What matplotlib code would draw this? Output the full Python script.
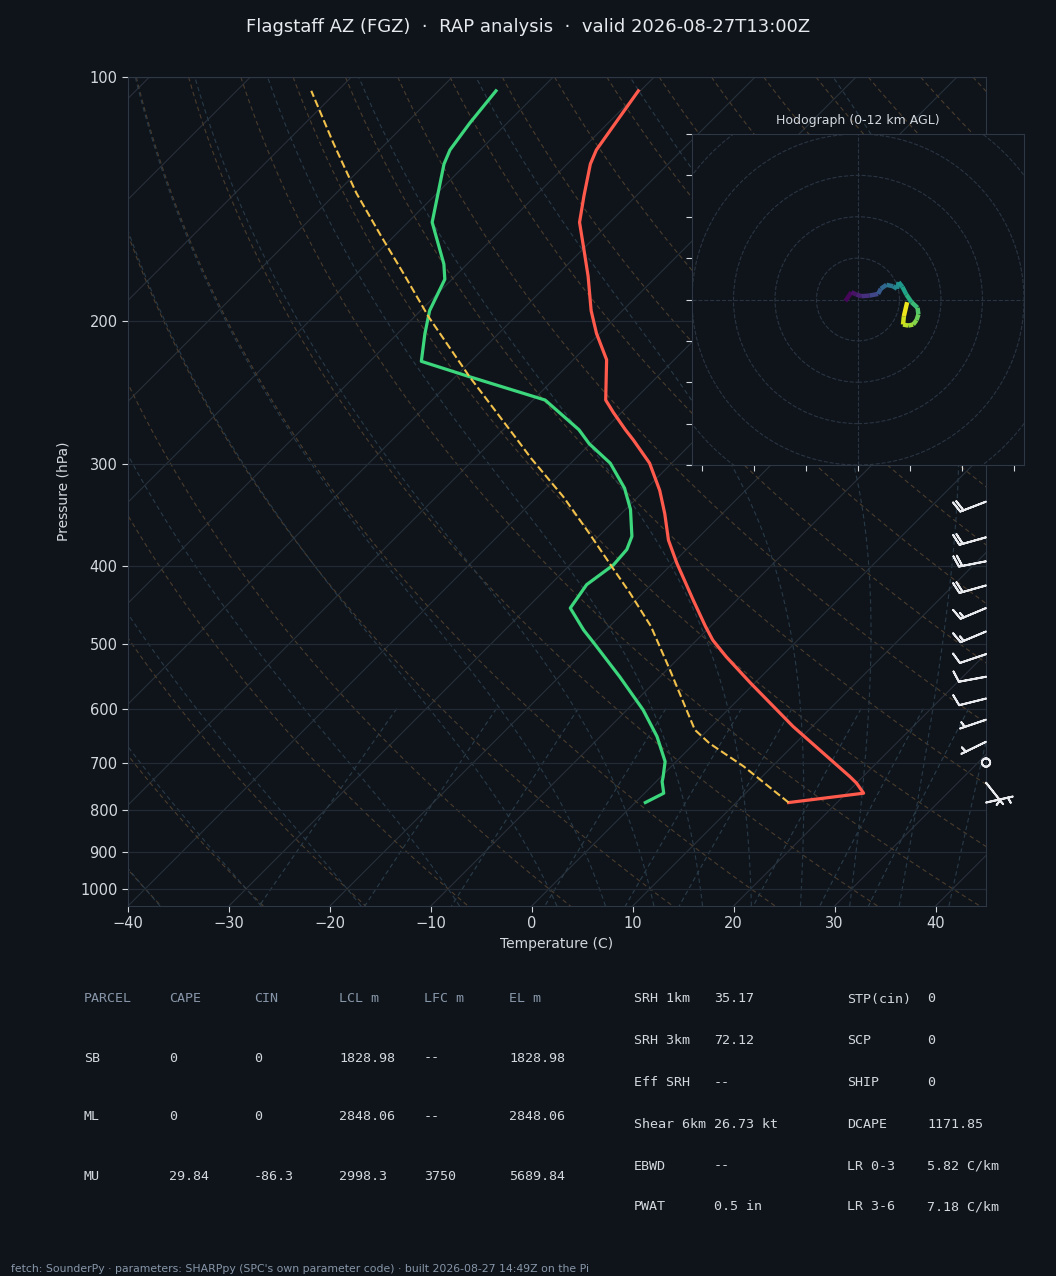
import numpy as np
import matplotlib
matplotlib.use("Agg")
import matplotlib.pyplot as plt
from matplotlib.collections import LineCollection
from matplotlib.patches import Circle

# --- Sounding: pressure hPa, temperature C ---
temp_p = [783, 762.5, 741, 727.5, 631, 558, 518, 494, 475, 441, 397, 372, 345, 323,
          299, 280, 272, 259, 250, 223, 207, 194, 176, 163, 151, 140, 128, 123, 104]
temp_c = [15.2, 21.7, 20.0, 18.7, 8.1, -0.4, -5.4, -8.4, -10.5, -14.3, -19.6, -22.7, -25.7, -28.5,
          -32.2, -36.1, -37.9, -40.8, -42.8, -46.7, -50.3, -53.1, -56.8, -59.9, -63.0, -65.2, -67.7, -68.5, -70.2]

dew_p = [783, 762.5, 738, 727.5, 697, 649, 602, 548, 498, 480, 451, 422, 399, 382, 368, 341,
         321, 299, 283, 272, 250, 234, 224, 207, 194, 177.5, 170, 151, 128, 123, 114, 104]
dew_c = [1.0, 1.9, 0.6, 0.2, -1.1, -4.4, -8.4, -14.0, -19.9, -22.2, -25.7, -26.4, -25.7, -25.9, -26.7, -29.5,
         -32.2, -36.1, -40.1, -42.5, -48.8, -58.6, -64.9, -67.3, -69.1, -70.7, -72.3, -77.6, -82.2, -83.0,
         -83.7, -84.3]

parcel_p = [783, 707, 662, 637, 602, 537.5, 475, 432, 403, 365, 329, 295, 279, 234, 197.4, 174.5,
            157, 139, 120.7, 104]
parcel_c = [15.2, 7.2, 1.5, -1.3, -4.1, -9.7, -15.9, -21.3, -25.4, -31.2, -37.4, -44.4, -47.8,
            -58.6, -68.6, -75.4, -81.3, -88.0, -95.2, -102.6]

# wind barbs (kt)
barb_p = [783, 740, 699, 659, 619, 583, 548, 514, 482, 451, 423, 395, 369, 333.5]
barb_u = [-5.8, -3.1, 0.0, 4.5, 4.7, 9.7, 9.8, 9.5, 13.8, 13.8, 19.2, 19.6, 19.2, 18.7]
barb_v = [-1.3, 3.9, 0.0, 2.2, 1.6, 2.4, 1.8, 3.2, 5.8, 5.8, 5.4, 3.8, 5.4, 7.2]

# hodograph, height km AGL
hodo_h = [0, 0.4, 0.8, 1.3, 2.0, 3.0, 3.6, 4.3, 5.0, 5.5, 6.0, 6.6, 7.2, 7.8, 8.5, 9.0,
          9.5, 10.0, 10.5, 10.9, 11.4, 12.0]
hodo_u = [-6.1, -3.2, -0.8, 1.6, 5.6, 9.7, 11.0, 13.7, 16.9, 18.8, 19.6, 21.4, 23.3, 25.8, 28.7, 29.1,
          28.2, 26.6, 24.2, 21.7, 22.1, 23.7]
hodo_v = [-0.8, 3.5, 2.4, 1.6, 1.9, 2.7, 5.2, 7.1, 6.4, 5.2, 8.4, 6.1, 2.4, -1.3, -4.0, -7.2,
          -10.0, -12.1, -12.6, -12.1, -8.1, -1.3]

# --- Parameter tables ---
parcel_cols = ["PARCEL", "CAPE", "CIN", "LCL m", "LFC m", "EL m"]
parcel_rows = [["SB", "0", "0", "1828.98", "--", "1828.98"],
               ["ML", "0", "0", "2848.06", "--", "2848.06"],
               ["MU", "29.84", "-86.3", "2998.3", "3750", "5689.84"]]
kin_names = ["SRH 1km", "SRH 3km", "Eff SRH", "Shear 6km", "EBWD", "PWAT"]
kin_vals = ["35.17", "72.12", "--", "26.73 kt", "--", "0.5 in"]
idx_names = ["STP(cin)", "SCP", "SHIP", "DCAPE", "LR 0-3", "LR 3-6"]
idx_vals = ["0", "0", "0", "1171.85", "5.82 C/km", "7.18 C/km"]

title = "Flagstaff AZ (FGZ)  \u00b7  RAP analysis  \u00b7  valid 2026-08-27T13:00Z"
footer = ("fetch: SounderPy \u00b7 parameters: SHARPpy (SPC's own parameter code) "
          "\u00b7 built 2026-08-27 14:49Z on the Pi")

BG = "#0f141b"
SPINE = "#2e3844"
TXT = "#d3d8de"
HEAD = "#8796a8"

W, H = 1056, 1276
fig = plt.figure(figsize=(W / 100, H / 100), dpi=100, facecolor=BG)

# --- Skew-T axes ---
L, R, T, B = 128, 986, 77, 906
ax = fig.add_axes([L / W, 1 - B / H, (R - L) / W, (B - T) / H], facecolor=BG)
P_BOT, P_TOP = 1050.0, 100.0
T_MIN, T_MAX = -40.0, 45.0
ax.set_yscale("log")
ax.set_ylim(P_BOT, P_TOP)
ax.set_xlim(T_MIN, T_MAX)

# 45 degree skew (degrees shift per unit ln p)
SKEW = ((B - T) / np.log(P_BOT / P_TOP)) / ((R - L) / (T_MAX - T_MIN))


def skew(t, p):
    return np.asarray(t, float) + SKEW * np.log(P_BOT / np.asarray(p, float))


p_line = np.geomspace(P_TOP, P_BOT, 200)

# isotherms
iso = [np.column_stack([skew(np.full_like(p_line, t), p_line), p_line])
       for t in np.arange(-130, 51, 10)]
ax.add_collection(LineCollection(iso, colors="#28303a", linewidths=0.8, zorder=1))

# dry adiabats
theta0 = np.arange(T_MIN, T_MAX + 201, 10) + 273.15
dry = [np.column_stack([skew(th * (p_line / 1000.0) ** 0.2857 - 273.15, p_line), p_line])
       for th in theta0]
ax.add_collection(LineCollection(dry, colors="#4a3c2c", linewidths=0.8,
                                 linestyles=(0, (4, 3)), zorder=1))

# moist adiabats
Rd, Cp, Lv, EPS = 287.04, 1005.7, 2.501e6, 0.622


def dtdp(t, p):
    es = 6.112 * np.exp(17.67 * (t - 273.15) / (t - 29.65))
    rs = EPS * es / (p - es)
    return (Rd * t + Lv * rs) / (Cp + Lv * Lv * rs * EPS / (Rd * t * t)) / p


def moist_path(t0, p_seq):
    t = t0 + 273.15
    out = [t]
    for p0, p1 in zip(p_seq[:-1], p_seq[1:]):
        h = p1 - p0
        k1 = dtdp(t, p0)
        k2 = dtdp(t + h * k1 / 2, p0 + h / 2)
        k3 = dtdp(t + h * k2 / 2, p0 + h / 2)
        k4 = dtdp(t + h * k3, p1)
        t = t + h * (k1 + 2 * k2 + 2 * k3 + k4) / 6
        out.append(t)
    return np.array(out) - 273.15


t0_moist = np.concatenate((np.arange(T_MIN, 0, 10), np.arange(0, T_MAX + 1, 5)))
p_up = np.linspace(1000, P_TOP, 181)
p_dn = np.linspace(1000, P_BOT, 11)
t_up = moist_path(t0_moist, p_up)
t_dn = moist_path(t0_moist, p_dn)
p_m = np.concatenate((p_dn[::-1], p_up[1:]))
moist = []
for i in range(len(t0_moist)):
    tm = np.concatenate((t_dn[::-1, i], t_up[1:, i]))
    moist.append(np.column_stack([skew(tm, p_m), p_m]))
ax.add_collection(LineCollection(moist, colors="#283a48", linewidths=0.8,
                                 linestyles=(0, (4, 3)), zorder=1))

# mixing ratio lines
p_mix = np.linspace(600, P_BOT, 50)
mix = []
for w in [0.0004, 0.001, 0.002, 0.004, 0.007, 0.01, 0.016, 0.024, 0.032]:
    le = np.log(w * p_mix / (EPS + w) / 6.112)
    td = 243.5 * le / (17.67 - le)
    mix.append(np.column_stack([skew(td, p_mix), p_mix]))
ax.add_collection(LineCollection(mix, colors="#2a3d4a", linewidths=0.8,
                                 linestyles=(0, (4, 3)), zorder=1))

# pressure grid
p_ticks = [100, 200, 300, 400, 500, 600, 700, 800, 900, 1000]
for p in p_ticks:
    ax.axhline(p, color="#222a34", lw=0.9, zorder=1)

# --- profiles ---
ax.plot(skew(temp_c, temp_p), temp_p, color="#ff5a4c", lw=2.3, zorder=4)
ax.plot(skew(dew_c, dew_p), dew_p, color="#3cd77c", lw=2.3, zorder=4)
ax.plot(skew(parcel_c, parcel_p), parcel_p, color="#f2c14b", lw=1.5, ls="--", zorder=4)

# wind barbs on the right edge
ax.barbs(np.ones(len(barb_p)), barb_p, barb_u, barb_v, transform=ax.get_yaxis_transform(),
         clip_on=False, length=6.3, color="#e8eaed", linewidth=1.4, zorder=5)

ax.set_yticks(p_ticks)
ax.set_yticklabels([str(p) for p in p_ticks])
ax.yaxis.set_minor_locator(matplotlib.ticker.NullLocator())
ax.set_xticks(np.arange(-40, 41, 10))
ax.tick_params(colors=TXT, labelsize=10.5, length=4)
ax.set_xlabel("Temperature (C)", color=TXT, fontsize=10)
ax.set_ylabel("Pressure (hPa)", color=TXT, fontsize=10, labelpad=7)
for s in ax.spines.values():
    s.set_color(SPINE)

# --- Hodograph inset ---
hx = fig.add_axes([692 / W, 1 - 465 / H, 332 / W, 331 / H], facecolor=BG)
hx.set_xlim(-80, 80)
hx.set_ylim(-80, 80)
for r in range(20, 101, 20):
    hx.add_patch(Circle((0, 0), r, fill=False, ls="--", lw=0.8, ec="#2a3441"))
hx.axhline(0, color="#2a3441", lw=0.8, ls="--")
hx.axvline(0, color="#2a3441", lw=0.8, ls="--")
pts = np.column_stack([hodo_u, hodo_v])
segs = np.stack([pts[:-1], pts[1:]], axis=1)
hh = np.array(hodo_h)
lc = LineCollection(segs, cmap="viridis", norm=plt.Normalize(0, 12), linewidths=3.2, zorder=3)
lc.set_array((hh[:-1] + hh[1:]) / 2)
hx.add_collection(lc)
hx.set_xticks(np.arange(-75, 76, 25))
hx.set_yticks(np.arange(-80, 81, 20))
hx.set_xticklabels([])
hx.set_yticklabels([])
hx.tick_params(colors=TXT, length=4)
for s in hx.spines.values():
    s.set_color(SPINE)
hx.set_title("Hodograph (0-12 km AGL)", color=TXT, fontsize=9, pad=7)

# --- Text ---
fig.text(0.5, 1 - 27 / H, title, ha="center", va="center", fontsize=13, color="#e6eaee")

mono = "DejaVu Sans Mono"
col_x = [84, 169, 254, 339, 424, 509]
for x, c in zip(col_x, parcel_cols):
    fig.text(x / W, 1 - 999 / H, c, ha="left", va="center", family=mono, fontsize=9.6, color=HEAD)
for row, y in zip(parcel_rows, [1058, 1117, 1176]):
    for x, c in zip(col_x, row):
        fig.text(x / W, 1 - y / H, c, ha="left", va="center", family=mono, fontsize=9.6, color=TXT)

row_y = [999, 1041, 1083, 1124, 1166, 1207]
for y, a, b, c, d in zip(row_y, kin_names, kin_vals, idx_names, idx_vals):
    for x, s in zip([634, 714, 847, 927], [a, b, c, d]):
        fig.text(x / W, 1 - y / H, s, ha="left", va="center", family=mono, fontsize=9.6, color=TXT)

fig.text(11 / W, 1 - 1269 / H, footer, ha="left", va="center", fontsize=7.8, color=HEAD)

fig.savefig("out.png", dpi=100, facecolor=BG)
